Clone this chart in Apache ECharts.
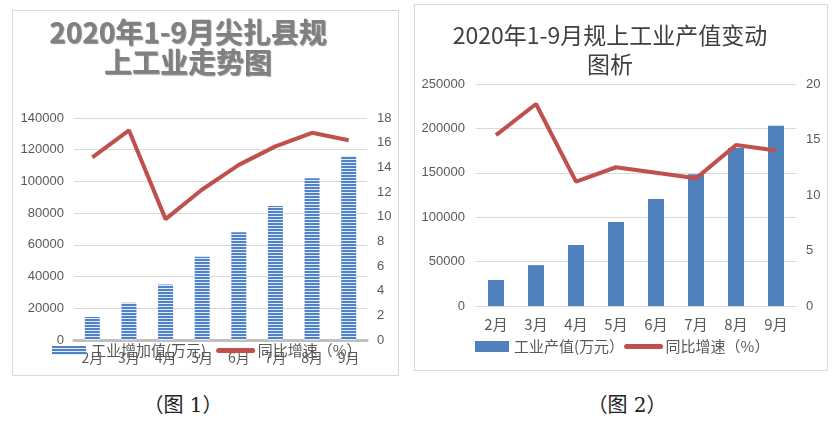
<!DOCTYPE html>
<html><head><meta charset="utf-8">
<script src="https://cdn.jsdelivr.net/npm/echarts@6/dist/echarts.min.js"></script>
<style>
html,body{margin:0;padding:0;background:#fff;width:837px;height:423px;overflow:hidden;position:relative;}
.panel{position:absolute;border:1px solid #d9d9d9;box-sizing:border-box;pointer-events:none;}
.chart{position:absolute;}
.cap{position:absolute;font-family:"DejaVu Serif","Liberation Serif","Noto Sans CJK SC";font-size:20px;color:#222;transform:translate(-50%,-50%);white-space:nowrap;}
</style></head>
<body>
<div id="c1" class="chart" style="left:12px;top:10px;width:386px;height:365px;"></div>
<div class="panel" style="left:12px;top:10px;width:387px;height:366px;"></div>
<div id="c2" class="chart" style="left:414px;top:4px;width:413px;height:366px;"></div>
<div class="panel" style="left:414px;top:4px;width:414px;height:367px;"></div>
<div class="cap" style="left:183px;top:403px;">（图 1）</div>
<div class="cap" style="left:627px;top:403px;">（图 2）</div>
<script>
// ---- data ----
const months = ['2月','3月','4月','5月','6月','7月','8月','9月'];
// chart 1
const c1Title = '2020年1-9月尖扎县规\n上工业走势图';
const c1BarName = '工业增加值(万元)';
const c1LineName = '同比增速（%）';
const c1Added = [14500, 23500, 35000, 52500, 68000, 84500, 102000, 116000];
const c1Growth = [14.8, 17.0, 9.8, 12.2, 14.2, 15.7, 16.8, 16.2];
// chart 2
const c2Title = '2020年1-9月规上工业产值变动\n图析';
const c2BarName = '工业产值(万元）';
const c2LineName = '同比增速（%）';
const c2Output = [29300, 46000, 68700, 94600, 120500, 148500, 178000, 203000];
const c2Growth = [15.4, 18.2, 11.2, 12.5, 12.0, 11.5, 14.5, 14.0];

const FONT = '"Liberation Sans","Noto Sans CJK SC",sans-serif';
const CJK = '"Noto Sans CJK SC","Liberation Sans",sans-serif';
const LBL = '#595959';
const RED = '#c0504d';
const plain = v => String(v);

// stripe pattern for chart 1 bars
const pc = document.createElement('canvas');
pc.width = 4; pc.height = 3;
const pctx = pc.getContext('2d');
pctx.fillStyle = '#e3ecf7'; pctx.fillRect(0,0,4,3);
pctx.fillStyle = '#4f81c9'; pctx.fillRect(0,0,4,2);

const lineLegend = name => ({name, itemStyle:{color:'rgba(0,0,0,0)', borderColor:'rgba(0,0,0,0)', borderWidth:0},
  lineStyle:{color:RED, width:5, cap:'round'}});

const ch1 = echarts.init(document.getElementById('c1'));
ch1.setOption({
  animation:false,
  graphic:[{
    type:'text', x:176, y:7,
    style:{text:c1Title, align:'center', verticalAlign:'top',
      font:'bold 28px '+CJK, fill:'#808080', lineHeight:30,
      textShadowColor:'rgba(0,0,0,0.45)', textShadowOffsetX:1, textShadowOffsetY:1, textShadowBlur:1}
  }],
  grid:{left:62, right:31, top:108, bottom:35},
  legend:{
    left:35, top:328, itemWidth:34, itemHeight:9, itemGap:10,
    textStyle:{fontFamily:CJK, fontSize:15, color:LBL},
    data:[{name:c1BarName, icon:'rect'}, lineLegend(c1LineName)]
  },
  xAxis:{type:'category', data:months,
    axisLine:{lineStyle:{color:'#bfbfbf', width:3}}, axisTick:{show:false},
    axisLabel:{color:LBL, fontFamily:CJK, fontSize:14, margin:11}},
  yAxis:[
    {type:'value', min:0, max:140000, interval:20000,
     axisLabel:{color:LBL, fontFamily:FONT, fontSize:13, margin:10, formatter:plain},
     splitLine:{lineStyle:{color:'#d9d9d9'}}, axisLine:{show:false}, axisTick:{show:false}},
    {type:'value', min:0, max:18, interval:2,
     axisLabel:{color:LBL, fontFamily:FONT, fontSize:13, margin:10, formatter:plain},
     splitLine:{show:false}, axisLine:{show:false}, axisTick:{show:false}}
  ],
  series:[
    {name:c1BarName, type:'bar', data:c1Added, barWidth:15,
     itemStyle:{color:{image:pc, repeat:'repeat'}}},
    {name:c1LineName, type:'line', yAxisIndex:1, data:c1Growth, symbol:'none',
     lineStyle:{color:RED, width:4}, itemStyle:{color:RED}}
  ]
});

const ch2 = echarts.init(document.getElementById('c2'));
ch2.setOption({
  animation:false,
  graphic:[{
    type:'text', x:196, y:17,
    style:{text:c2Title, align:'center', verticalAlign:'top',
      font:'23px '+CJK, fill:'#404040', lineHeight:29}
  }],
  grid:{left:62, right:31, top:80, bottom:64},
  legend:{
    left:56, top:330, itemWidth:34, itemHeight:11, itemGap:0,
    textStyle:{fontFamily:CJK, fontSize:15, color:LBL},
    data:[{name:c2BarName, icon:'rect'}, lineLegend(c2LineName)]
  },
  xAxis:{type:'category', data:months,
    axisLine:{lineStyle:{color:'#d9d9d9', width:1}}, axisTick:{show:false},
    axisLabel:{color:LBL, fontFamily:CJK, fontSize:15, margin:11}},
  yAxis:[
    {type:'value', min:0, max:250000, interval:50000,
     axisLabel:{color:LBL, fontFamily:FONT, fontSize:13, margin:11, formatter:plain},
     splitLine:{lineStyle:{color:'#d9d9d9'}}, axisLine:{show:false}, axisTick:{show:false}},
    {type:'value', min:0, max:20, interval:5,
     axisLabel:{color:LBL, fontFamily:FONT, fontSize:13, margin:10, formatter:plain},
     splitLine:{show:false}, axisLine:{show:false}, axisTick:{show:false}}
  ],
  series:[
    {name:c2BarName, type:'bar', data:c2Output, barWidth:16, itemStyle:{color:'#4f81bd'}},
    {name:c2LineName, type:'line', yAxisIndex:1, data:c2Growth, symbol:'none',
     lineStyle:{color:RED, width:4}, itemStyle:{color:RED}}
  ]
});
</script>
</body></html>
